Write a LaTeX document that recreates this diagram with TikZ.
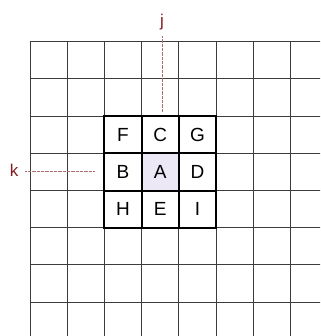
\documentclass[tikz,border=0pt]{standalone}
\usepackage{fontspec}
\setmainfont{Liberation Sans}
\definecolor{lbl}{RGB}{130,30,35}
\definecolor{lead}{RGB}{170,110,110}
\definecolor{gridc}{RGB}{60,60,60}
\definecolor{afill}{RGB}{236,232,246}
\begin{document}
\begin{tikzpicture}[x=1pt,y=-1pt,
  gridline/.style={draw=gridc,line width=1pt},
  blockline/.style={draw=black,line width=2pt},
  letter/.style={font=\fontsize{19}{19}\selectfont,text=black,inner sep=0pt},
  tag/.style={font=\fontsize{17}{17}\selectfont,text=lbl,inner sep=0pt},
  leader/.style={draw=lead,line width=0.9pt,dash pattern=on 0.6pt off 0.7pt}]
\useasboundingbox (0,0) rectangle (320,336);
\fill[white] (0,0) rectangle (320,336);
\begin{scope}
\clip (0,0) rectangle (320,336);
\fill[afill] (141.6,153.3) rectangle (178.8,190.5);
\foreach \i in {0,...,8} {
  \draw[gridline] ({30+37.2*\i},41.7) -- ({30+37.2*\i},340);
  \draw[gridline] (30,{41.7+37.2*\i}) -- (330,{41.7+37.2*\i});
}
\draw[blockline] (104.4,116.1) rectangle (216,227.7);
\draw[blockline] (141.6,116.1) -- (141.6,227.7);
\draw[blockline] (178.8,116.1) -- (178.8,227.7);
\draw[blockline] (104.4,153.3) -- (216,153.3);
\draw[blockline] (104.4,190.5) -- (216,190.5);
\end{scope}
\node[letter] (F) at (123,134.7) {F};
\node[letter] (C) at (160.2,134.7) {C};
\node[letter] (G) at (197.4,134.7) {G};
\node[letter] (B) at (123,171.9) {B};
\node[letter] (A) at (160.2,171.9) {A};
\node[letter] (D) at (197.4,171.9) {D};
\node[letter] (H) at (123,209.1) {H};
\node[letter] (E) at (160.2,209.1) {E};
\node[letter] (I) at (197.4,209.1) {I};
\node[tag] (j) at (162,22) {j};
\node[tag] (k) at (14,170) {k};
\coordinate (jstart) at (162,36);
\coordinate (jend) at (162,112);
\coordinate (kstart) at (25,171);
\coordinate (kend) at (95,171);
\draw[leader] (jstart) -- (jend);
\draw[leader] (kstart) -- (kend);
\end{tikzpicture}
\end{document}
